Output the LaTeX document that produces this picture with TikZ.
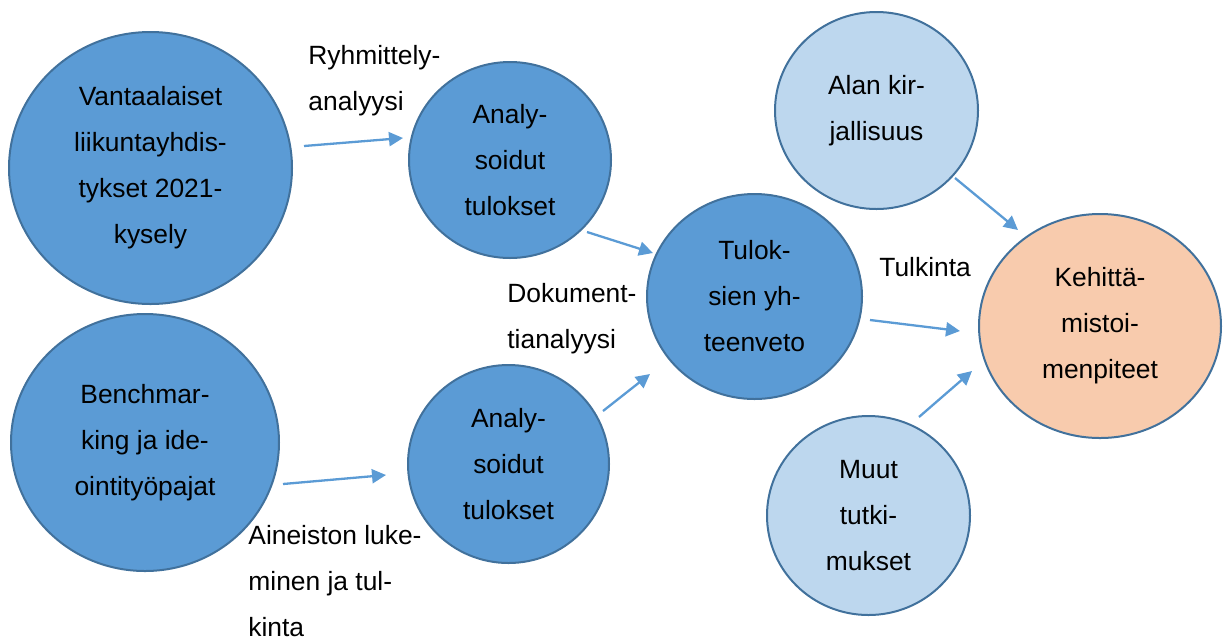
\documentclass[tikz,border=0pt]{standalone}
\usepackage{fontspec}
\setmainfont{Liberation Sans}
\usepackage{tikz}
\usetikzlibrary{arrows.meta,shapes.geometric}
\definecolor{vkblue}{HTML}{5B9BD5}
\definecolor{vkborder}{HTML}{41719C}
\definecolor{vklight}{HTML}{BDD7EE}
\definecolor{vkpeach}{HTML}{F8CBAD}
\tikzset{
  vkcircle/.style={
    ellipse, draw=vkborder, line width=1pt, inner sep=0pt,
    align=center, font=\fontsize{13.2}{23}\selectfont
  },
  vkdark/.style={vkcircle,fill=vkblue},
  vklightc/.style={vkcircle,fill=vklight},
  vkgoal/.style={vkcircle,fill=vkpeach},
  vkedge/.style={-{Triangle[length=7pt,width=7pt]},draw=vkblue,line width=1.15pt},
  vklabel/.style={anchor=north west,align=left,inner sep=0pt,
    font=\fontsize{13.2}{23}\selectfont}
}

\begin{document}
\begin{tikzpicture}[x=0.5pt,y=-0.5pt]
  \useasboundingbox (0,0) rectangle (1232,639);
  % Source material
  \node[vkdark,minimum width=141.5pt,minimum height=136pt] (survey) at (150.5,168)
    {Vantaalaiset\\liikuntayhdis-\\tykset 2021-\\kysely};
  \node[vkdark,minimum width=134pt,minimum height=128.5pt] (bench) at (145,442.5)
    {Benchmar-\\king ja ide-\\ointityöpajat};
  \node[vkdark,minimum width=101pt,minimum height=98pt] (anatop) at (510,160)
    {Analy-\\soidut\\tulokset};
  \node[vkdark,minimum width=100.5pt,minimum height=99pt] (anabot) at (508.5,464)
    {Analy-\\soidut\\tulokset};
  \node[vkdark,minimum width=107.5pt,minimum height=102.5pt] (summary) at (754.5,296.5)
    {Tulok-\\sien yh-\\teenveto};
  \node[vklightc,minimum width=101.5pt,minimum height=98.5pt] (lit) at (876.5,110.5)
    {Alan kir-\\jallisuus};
  \node[vklightc,minimum width=101.5pt,minimum height=99.5pt] (other) at (868.5,515.5)
    {Muut\\tutki-\\mukset};
  \node[vkgoal,minimum width=121pt,minimum height=112pt] (goal) at (1100,326)
    {Kehittä-\\mistoi-\\menpiteet};

  % Arrow ends
  \coordinate (a1s) at (304,146);  \coordinate (a1e) at (403,138);
  \coordinate (a2s) at (587,232);  \coordinate (a2e) at (653,253);
  \coordinate (a3s) at (603,411);  \coordinate (a3e) at (650,374);
  \coordinate (a4s) at (283,484);  \coordinate (a4e) at (386,475);
  \coordinate (a5s) at (870,320);  \coordinate (a5e) at (960,331);
  \coordinate (a6s) at (955,178);  \coordinate (a6e) at (1018,230);
  \coordinate (a7s) at (919,417);  \coordinate (a7e) at (972,371);
  \draw[vkedge] (a1s) -- (a1e);
  \draw[vkedge] (a2s) -- (a2e);
  \draw[vkedge] (a3s) -- (a3e);
  \draw[vkedge] (a4s) -- (a4e);
  \draw[vkedge] (a5s) -- (a5e);
  \draw[vkedge] (a6s) -- (a6e);
  \draw[vkedge] (a7s) -- (a7e);

  % Method labels
  \node[vklabel] (lcluster) at (308,45) {Ryhmittely-\\analyysi};
  \node[vklabel] (ldoc) at (507,283) {Dokument-\\tianalyysi};
  \node[vklabel] (lread) at (248,525) {Aineiston luke-\\minen ja tul-\\kinta};
  \node[vklabel] (linterp) at (879,257) {Tulkinta};
\end{tikzpicture}
\end{document}
